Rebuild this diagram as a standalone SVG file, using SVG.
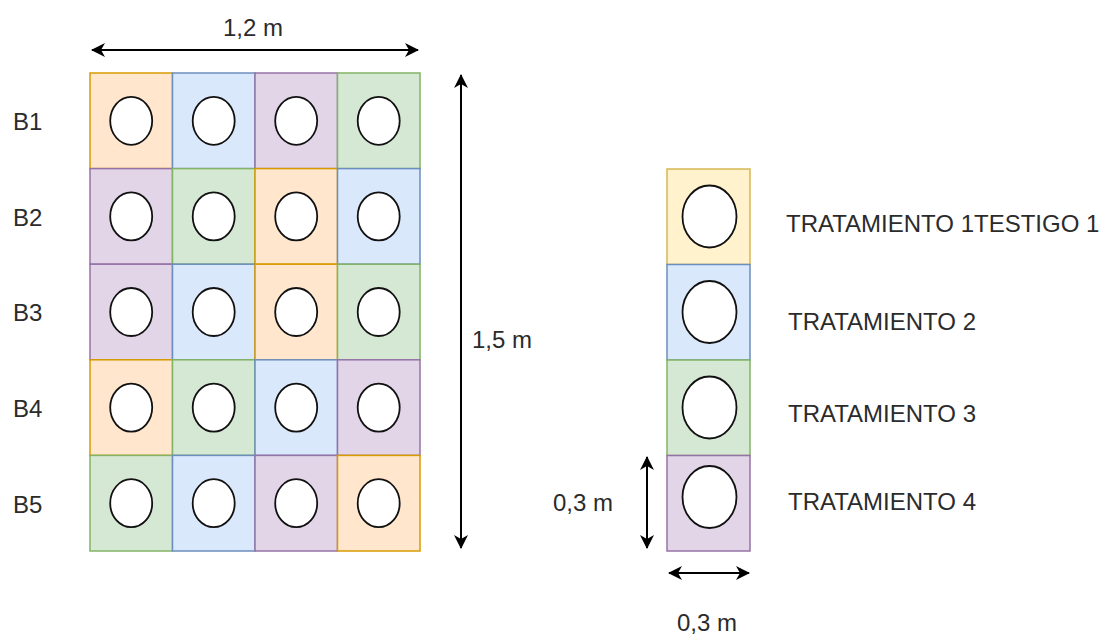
<svg xmlns="http://www.w3.org/2000/svg" width="1110" height="634" viewBox="0 0 1110 634">
<defs>
<marker id="ah" viewBox="0 0 14 14" refX="13" refY="7" markerWidth="14" markerHeight="14" markerUnits="userSpaceOnUse" orient="auto-start-reverse">
<path d="M0,0 L14,7 L0,14 L4,7 z" fill="#000"/>
</marker>
</defs>
<style>
.o{fill:#ffe6cc;stroke:#d79b00;stroke-width:1.5}
.b{fill:#dae8fc;stroke:#6c8ebf;stroke-width:1.5}
.p{fill:#e1d5e7;stroke:#9673a6;stroke-width:1.5}
.g{fill:#d5e8d4;stroke:#82b366;stroke-width:1.5}
.y{fill:#fff2cc;stroke:#d6b656;stroke-width:1.5}
.c{fill:#fff;stroke:#111;stroke-width:1.8}
.t{font-family:"Liberation Sans",Arial,sans-serif;font-size:24px;fill:#2b2b2b}
.a{stroke:#000;stroke-width:2;fill:none;marker-start:url(#ah);marker-end:url(#ah)}
</style>
<rect width="1110" height="634" fill="#fff"/>
<g id="grid">
<g id="r1">
<rect class="o" x="90" y="73" width="82.5" height="95.6"/><ellipse class="c" cx="131.2" cy="120.8" rx="21" ry="24"/>
<rect class="b" x="172.5" y="73" width="82.5" height="95.6"/><ellipse class="c" cx="213.7" cy="120.8" rx="21" ry="24"/>
<rect class="p" x="255" y="73" width="82.5" height="95.6"/><ellipse class="c" cx="296.2" cy="120.8" rx="21" ry="24"/>
<rect class="g" x="337.5" y="73" width="82.5" height="95.6"/><ellipse class="c" cx="378.7" cy="120.8" rx="21" ry="24"/>
</g>
<g id="r2">
<rect class="p" x="90" y="168.6" width="82.5" height="95.6"/><ellipse class="c" cx="131.2" cy="216.4" rx="21" ry="24"/>
<rect class="g" x="172.5" y="168.6" width="82.5" height="95.6"/><ellipse class="c" cx="213.7" cy="216.4" rx="21" ry="24"/>
<rect class="o" x="255" y="168.6" width="82.5" height="95.6"/><ellipse class="c" cx="296.2" cy="216.4" rx="21" ry="24"/>
<rect class="b" x="337.5" y="168.6" width="82.5" height="95.6"/><ellipse class="c" cx="378.7" cy="216.4" rx="21" ry="24"/>
</g>
<g id="r3">
<rect class="p" x="90" y="264.2" width="82.5" height="95.6"/><ellipse class="c" cx="131.2" cy="312" rx="21" ry="24"/>
<rect class="b" x="172.5" y="264.2" width="82.5" height="95.6"/><ellipse class="c" cx="213.7" cy="312" rx="21" ry="24"/>
<rect class="o" x="255" y="264.2" width="82.5" height="95.6"/><ellipse class="c" cx="296.2" cy="312" rx="21" ry="24"/>
<rect class="g" x="337.5" y="264.2" width="82.5" height="95.6"/><ellipse class="c" cx="378.7" cy="312" rx="21" ry="24"/>
</g>
<g id="r4">
<rect class="o" x="90" y="359.8" width="82.5" height="95.6"/><ellipse class="c" cx="131.2" cy="407.6" rx="21" ry="24"/>
<rect class="g" x="172.5" y="359.8" width="82.5" height="95.6"/><ellipse class="c" cx="213.7" cy="407.6" rx="21" ry="24"/>
<rect class="b" x="255" y="359.8" width="82.5" height="95.6"/><ellipse class="c" cx="296.2" cy="407.6" rx="21" ry="24"/>
<rect class="p" x="337.5" y="359.8" width="82.5" height="95.6"/><ellipse class="c" cx="378.7" cy="407.6" rx="21" ry="24"/>
</g>
<g id="r5">
<rect class="g" x="90" y="455.4" width="82.5" height="95.6"/><ellipse class="c" cx="131.2" cy="503.2" rx="21" ry="24"/>
<rect class="b" x="172.5" y="455.4" width="82.5" height="95.6"/><ellipse class="c" cx="213.7" cy="503.2" rx="21" ry="24"/>
<rect class="p" x="255" y="455.4" width="82.5" height="95.6"/><ellipse class="c" cx="296.2" cy="503.2" rx="21" ry="24"/>
<rect class="o" x="337.5" y="455.4" width="82.5" height="95.6"/><ellipse class="c" cx="378.7" cy="503.2" rx="21" ry="24"/>
</g>
</g>
<g id="blocks">
<text class="t" x="13" y="130">B1</text>
<text class="t" x="13" y="226">B2</text>
<text class="t" x="13" y="321">B3</text>
<text class="t" x="13" y="417">B4</text>
<text class="t" x="13" y="513">B5</text>
</g>
<g id="legend">
<g id="l1"><rect class="y" x="667" y="169" width="83" height="95.5"/><ellipse class="c" cx="709.5" cy="216.5" rx="27" ry="31"/><text class="t" x="786" y="232">TRATAMIENTO 1TESTIGO 1</text></g>
<g id="l2"><rect class="b" x="667" y="264.5" width="83" height="95.5"/><ellipse class="c" cx="709.5" cy="312" rx="27" ry="31"/><text class="t" x="788" y="330">TRATAMIENTO 2</text></g>
<g id="l3"><rect class="g" x="667" y="360" width="83" height="95.5"/><ellipse class="c" cx="709.5" cy="407.5" rx="27" ry="31"/><text class="t" x="788" y="422">TRATAMIENTO 3</text></g>
<g id="l4"><rect class="p" x="667" y="455.5" width="83" height="95.5"/><ellipse class="c" cx="709.5" cy="497" rx="27" ry="31"/><text class="t" x="788" y="510">TRATAMIENTO 4</text></g>
</g>
<g id="connectors">
<line class="a" x1="92" y1="50" x2="418" y2="50"/>
<line class="a" x1="461" y1="75" x2="461" y2="548"/>
<line class="a" x1="647" y1="457" x2="647" y2="548"/>
<line class="a" x1="669" y1="573" x2="749" y2="573"/>
</g>
<g id="dims">
<text class="t" x="253" y="36" text-anchor="middle">1,2 m</text>
<text class="t" x="472" y="348">1,5 m</text>
<text class="t" x="553" y="511">0,3 m</text>
<text class="t" x="677" y="631">0,3 m</text>
</g>
</svg>
